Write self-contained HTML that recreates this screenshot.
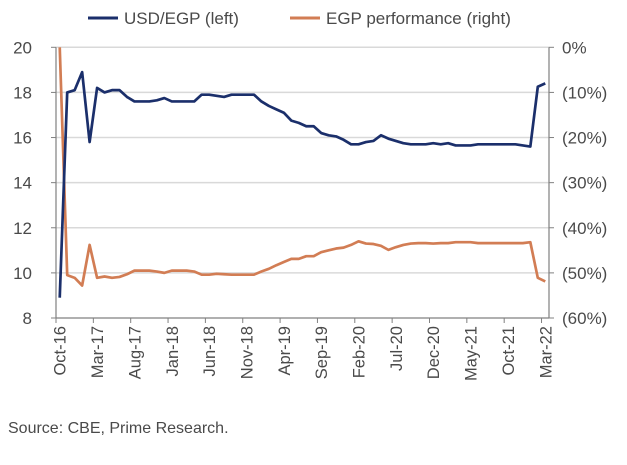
<!DOCTYPE html>
<html><head><meta charset="utf-8"><style>
body{margin:0;background:#fff;width:627px;height:460px;overflow:hidden;font-family:"Liberation Sans",sans-serif}
svg text{font-family:"Liberation Sans",sans-serif;fill:#4a4a4a}
</style></head><body>
<svg id="chart" width="627" height="460" xmlns="http://www.w3.org/2000/svg">
<g>
<line x1="88" y1="18" x2="118" y2="18" stroke="#1b2f6b" stroke-width="3"/>
<text x="124" y="24" font-size="17">USD/EGP (left)</text>
<line x1="290" y1="18" x2="320" y2="18" stroke="#d27d54" stroke-width="3"/>
<text x="326" y="24" font-size="17">EGP performance (right)</text>
</g>
<g id="grid"></g><g id="axes"></g><g id="series"></g>
<text x="8" y="433" font-size="16">Source: CBE, Prime Research.</text>
</svg>
<script>
const months=["Oct-16","Mar-17","Aug-17","Jan-18","Jun-18","Nov-18","Apr-19","Sep-19","Feb-20","Jul-20","Dec-20","May-21","Oct-21","Mar-22"];
const leftTicks=[8,10,12,14,16,18,20];
const rightTicks=[0,-10,-20,-30,-40,-50,-60];
const usdEgp=[8.9,18.0,18.1,18.9,15.8,18.2,18.0,18.1,18.1,17.8,17.6,17.6,17.6,17.65,17.75,17.6,17.6,17.6,17.6,17.9,17.9,17.85,17.8,17.9,17.9,17.9,17.9,17.6,17.4,17.25,17.1,16.75,16.65,16.5,16.5,16.2,16.1,16.05,15.9,15.7,15.7,15.8,15.85,16.1,15.95,15.85,15.75,15.7,15.7,15.7,15.75,15.7,15.75,15.65,15.65,15.65,15.7,15.7,15.7,15.7,15.7,15.7,15.65,15.6,18.25,18.4];
const egpPerf=[0,-50.5,-51.1,-52.8,-43.8,-51.1,-50.8,-51.1,-50.9,-50.3,-49.5,-49.5,-49.5,-49.7,-50.0,-49.5,-49.5,-49.5,-49.7,-50.4,-50.4,-50.2,-50.3,-50.4,-50.4,-50.4,-50.4,-49.7,-49.1,-48.3,-47.6,-46.9,-46.9,-46.3,-46.3,-45.4,-45.0,-44.6,-44.4,-43.8,-43.0,-43.5,-43.6,-44.0,-44.9,-44.3,-43.8,-43.5,-43.4,-43.4,-43.5,-43.4,-43.4,-43.2,-43.2,-43.2,-43.4,-43.4,-43.4,-43.4,-43.4,-43.4,-43.4,-43.2,-51.1,-51.9];
const L=56,R=549,T=47.3,B=318,N=usdEgp.length;
const bw=(R-L)/N;
const xs=i=>L+bw*(i+0.5);
const yl=v=>B-(v-8)/12*(B-T);
const yr=v=>B-(v+60)/60*(B-T);
const NS="http://www.w3.org/2000/svg";
function mk(p,tag,at){const e=document.createElementNS(NS,tag);for(const k in at)e.setAttribute(k,at[k]);p.appendChild(e);return e;}
const grid=document.getElementById('grid'),axes=document.getElementById('axes'),ser=document.getElementById('series');
leftTicks.forEach(v=>{
 if(v>8){const g=mk(grid,'line',{x1:L,x2:R,y1:yl(v),y2:yl(v),stroke:'#d9d9d9','stroke-width':1.5});
 
 }
 const t=mk(axes,'text',{x:L-24,y:yl(v)+6,'font-size':17,'text-anchor':'end'});t.textContent=v;
 
 
 mk(axes,'line',{x1:L-5,x2:L,y1:yl(v),y2:yl(v),stroke:'#808080'});
});
rightTicks.forEach(v=>{
 const t=mk(axes,'text',{x:R+13,y:yr(v)+6,'font-size':17});t.textContent=v===0?'0%':'('+(-v)+'%)';
 
 
 mk(axes,'line',{x1:R,x2:R+5,y1:yr(v),y2:yr(v),stroke:'#808080'});
});
mk(axes,'line',{x1:L,x2:L,y1:T,y2:B,stroke:'#808080','stroke-width':1.2});
mk(axes,'line',{x1:R,x2:R,y1:T,y2:B,stroke:'#808080','stroke-width':1.2});
mk(axes,'line',{x1:L,x2:R,y1:B,y2:B,stroke:'#808080','stroke-width':1.2});
months.forEach((m,k)=>{
 const i=k*5;
 mk(axes,'line',{x1:L+bw*i,x2:L+bw*i,y1:B,y2:B+5,stroke:'#808080'});
 const x=xs(i)+6,y=B+8;
 const t=mk(axes,'text',{x:x,y:y,'font-size':16.5,'text-anchor':'end',transform:`rotate(-90 ${x} ${y})`});t.textContent=m;
 
 
});
const p1=mk(ser,'polyline',{points:egpPerf.map((v,i)=>xs(i)+','+yr(v)).join(' '),fill:'none',stroke:'#d27d54','stroke-width':2.7,'stroke-linejoin':'round'});


const p2=mk(ser,'polyline',{points:usdEgp.map((v,i)=>xs(i)+','+yl(v)).join(' '),fill:'none',stroke:'#1b2f6b','stroke-width':2.7,'stroke-linejoin':'round'});


</script>
</body></html>
